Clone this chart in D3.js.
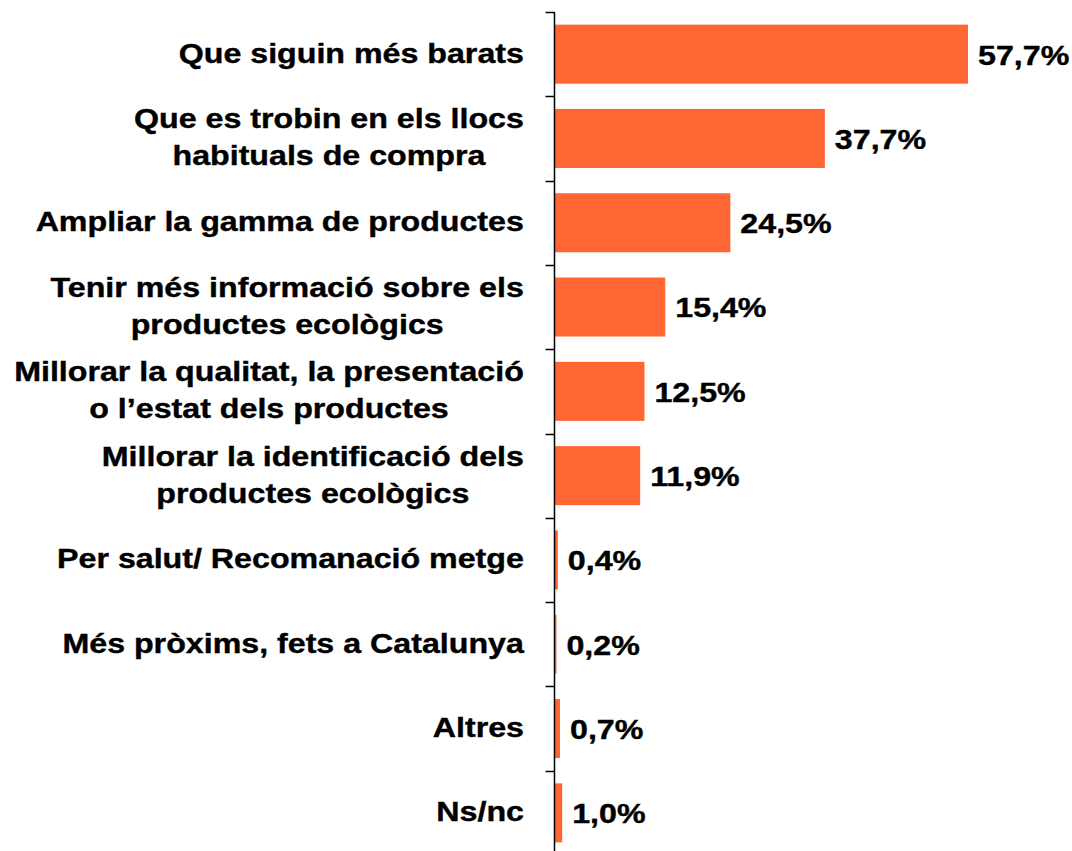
<!DOCTYPE html>
<html>
<head>
<meta charset="utf-8">
<script src="https://cdn.jsdelivr.net/npm/d3@7"></script>
<style>
  html, body { margin: 0; padding: 0; background: #fff; }
  svg { display: block; }
  text { font-family: "Liberation Sans", Arial, sans-serif; font-weight: bold; fill: #000; stroke: #000; stroke-width: 0.4px; }
</style>
</head>
<body>
<svg id="chart" width="1072" height="851"></svg>
<script>
// Reasons (each label split into its drawn lines) and share of answers, in %
const categories = [
  ["Que siguin més barats"],
  ["Que es trobin en els llocs", "habituals de compra"],
  ["Ampliar la gamma de productes"],
  ["Tenir més informació sobre els", "productes ecològics"],
  ["Millorar la qualitat, la presentació", "o l\u2019estat dels productes"],
  ["Millorar la identificació dels", "productes ecològics"],
  ["Per salut/ Recomanació metge"],
  ["Més pròxims, fets a Catalunya"],
  ["Altres"],
  ["Ns/nc"]
];
const values = [57.7, 37.7, 24.5, 15.4, 12.5, 11.9, 0.4, 0.2, 0.7, 1.0];
const valueLabels = ["57,7%", "37,7%", "24,5%", "15,4%", "12,5%", "11,9%", "0,4%", "0,2%", "0,7%", "1,0%"];

const keys = categories.map((c, i) => "c" + i);
const svg = d3.select("#chart");

const axisX = 554.5;
const x = d3.scaleLinear().domain([0, 70]).range([555, 555 + 70 * 7.158]);
const y = d3.scaleBand().domain(keys).range([12, 855]).paddingInner(0.3).paddingOuter(0.15);
const step = y.step();
const bandTop = k => y(k) - y.paddingInner() * step / 2;

const fontSize = 28;
const stretch = 1.15;
const labelRight = 524;
const lineGap = 37;

// bars
svg.append("g").selectAll("rect")
  .data(values)
  .join("rect")
  .attr("x", x(0))
  .attr("y", (d, i) => y(keys[i]))
  .attr("width", d => x(d) - x(0))
  .attr("height", y.bandwidth())
  .attr("fill", "#FF6633");

// axis line and ticks at band boundaries
const axisG = svg.append("g");
axisG.append("line")
  .attr("x1", axisX).attr("x2", axisX)
  .attr("y1", 12).attr("y2", 855)
  .attr("stroke", "#000").attr("stroke-width", 1.5);
const boundaries = keys.map(bandTop).concat([bandTop(keys[keys.length - 1]) + step]);
axisG.selectAll("line.tick")
  .data(boundaries)
  .join("line")
  .attr("class", "tick")
  .attr("x1", axisX - 9).attr("x2", axisX)
  .attr("y1", d => Math.round(d) + 0.5).attr("y2", d => Math.round(d) + 0.5)
  .attr("stroke", "#000").attr("stroke-width", 1.5);

// category labels: block right-aligned, lines centred within the block
const labelG = svg.append("g");
categories.forEach((lines, i) => {
  const cy = y(keys[i]) + y.bandwidth() / 2;
  const g = labelG.append("g");
  const texts = lines.map((line, j) => {
    const baseline = cy + 0.3 * fontSize + (j - (lines.length - 1) / 2) * lineGap;
    return g.append("text")
      .attr("text-anchor", "middle")
      .attr("font-size", fontSize)
      .attr("data-y", baseline)
      .text(line);
  });
  const widths = texts.map(t => t.node().getComputedTextLength() * stretch);
  const maxW = d3.max(widths);
  const cx = labelRight - maxW / 2;
  texts.forEach(t => {
    t.attr("transform", `translate(${cx},${t.attr("data-y")}) scale(${stretch},1)`);
  });
});

// value labels
svg.append("g").selectAll("text")
  .data(values)
  .join("text")
  .attr("font-size", fontSize)
  .attr("transform", (d, i) => `translate(${x(d) + 10},${y(keys[i]) + y.bandwidth() / 2 + 0.37 * fontSize}) scale(${stretch},1)`)
  .text((d, i) => valueLabels[i]);
</script>
</body>
</html>
